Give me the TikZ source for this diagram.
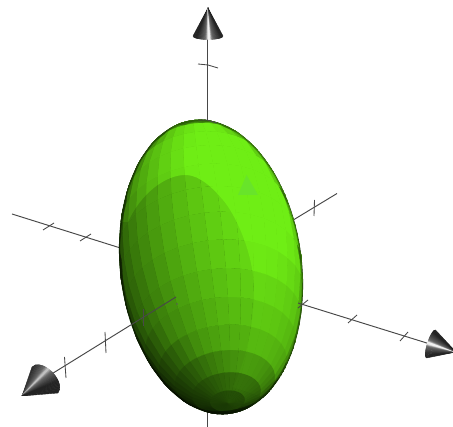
\documentclass[tikz,border=0pt]{standalone}
\tikzset{
  axisline/.style={draw={rgb,255:red,72;green,72;blue,72},line width=0.95pt},
  tickmark/.style={draw={rgb,255:red,72;green,72;blue,72},line width=0.85pt},
  declare function={
    sx(\p,\l)=cos(\p)*cos(\l);
    sy(\p,\l)=0.93*sin(\p)+0.37*cos(\p)*sin(\l);
    sz(\p,\l)=-0.37*sin(\p)+0.93*cos(\p)*sin(\l);
    fx(\p,\l)=211+90.3*sx(\p,\l)-18.0*sy(\p,\l);
    fy(\p,\l)=267-146.9*sy(\p,\l)-11.1*sx(\p,\l);
  }
}
\newcommand{\conepeak}{170}
% cone: tip, base centre, half-width vector, bulge vector, highlight position
\newcommand{\conefan}[9]{%
  \foreach \i in {-16,...,15}{%
    \pgfmathsetmacro{\sa}{\i/16}%
    \pgfmathsetmacro{\sb}{(\i+1)/16}%
    \pgfmathsetmacro{\ba}{sqrt(max(0,1-\sa*\sa))}%
    \pgfmathsetmacro{\bb}{sqrt(max(0,1-\sb*\sb))}%
    \pgfmathsetmacro{\dd}{abs((\sa+\sb)/2-#9)}%
    \pgfmathtruncatemacro{\gv}{min(240,35+\conepeak*exp(-\dd*\dd/0.02)+90*max(0,1-\dd*1.2))}%
    \fill[fill={rgb,255:red,\gv;green,\gv;blue,\gv},draw={rgb,255:red,\gv;green,\gv;blue,\gv},line width=0.4pt]
      (#1,#2) -- ({#3+#5*\sa+#7*\ba},{#4+#6*\sa+#8*\ba}) -- ({#3+#5*\sb+#7*\bb},{#4+#6*\sb+#8*\bb}) -- cycle;
  }%
}
% one layer of flat quads; #1 = 0 plain, 1 brightened
\newcommand{\meshlayer}[1]{%
\foreach \pi in {-8,...,7}{
  \foreach \li in {-3,...,32}{
    \pgfmathsetmacro{\pa}{\pi*11.25}
    \pgfmathsetmacro{\pb}{\pa+11.25}
    \pgfmathsetmacro{\la}{\li*10}
    \pgfmathsetmacro{\lb}{\la+10}
    \pgfmathsetmacro{\pc}{\pa+5.6}
    \pgfmathsetmacro{\lc}{\la+5}
    \pgfmathsetmacro{\nx}{sx(\pc,\lc)}
    \pgfmathsetmacro{\ny}{sy(\pc,\lc)}
    \pgfmathsetmacro{\nz}{sz(\pc,\lc)}
    \ifdim\nz pt>-0.12pt
      \pgfmathsetmacro{\tv}{max(-0.7,0.62*\nx+0.42*\ny+0.66*\nz)}
      \pgfmathsetmacro{\gb}{62+(\tv+0.7)*96}
      \pgfmathsetmacro{\boost}{#1*max(0.04,0.08+0.17*\ny)+1}
      \pgfmathsetmacro{\wv}{-\ny-0.25*\nx}
      \pgfmathsetmacro{\lim}{min(1,0.6+max(\nz,0)*1.5)*(\wv>0.55 ? 1-(\wv-0.55)*1.1 : 1)}
      \pgfmathtruncatemacro{\gg}{min(238,\gb*\boost)*\lim}
      \pgfmathtruncatemacro{\rr}{\gg*0.47}
      \pgfmathtruncatemacro{\bbb}{\gg*0.09}
      \fill[fill={rgb,255:red,\rr;green,\gg;blue,\bbb},draw={rgb,255:red,\rr;green,\gg;blue,\bbb},line width=0.2pt]
        ({fx(\pa,\la)},{fy(\pa,\la)}) -- ({fx(\pb,\la)},{fy(\pb,\la)}) -- ({fx(\pb,\lb)},{fy(\pb,\lb)}) -- ({fx(\pa,\lb)},{fy(\pa,\lb)}) -- cycle;
    \fi
  }
}}
\begin{document}
\begin{tikzpicture}[x=1pt,y=-1pt]
\useasboundingbox (0,0) rectangle (453,427);
\clip (0,0) rectangle (453,427);
\fill[white] (0,0) rectangle (453,427);
% axes behind the ellipsoid
\coordinate (topEnd) at (207.5,36);
\coordinate (botEnd) at (207.5,427);
\coordinate (leftEnd) at (12,214);
\coordinate (leftIn) at (130,251);
\coordinate (urEnd) at (337,193.5);
\coordinate (urIn) at (280,228);
\draw[axisline] (topEnd) -- (botEnd);
\draw[axisline] (leftEnd) -- (leftIn);
\draw[axisline] (urIn) -- (urEnd);
\draw[tickmark] (198,64) -- (208,65) -- (218,68);
\draw[tickmark] (43,230) -- (54,223);
\draw[tickmark] (80,241) -- (91,234);
\draw[tickmark] (314.5,200) -- (314,216);
% ellipsoid
\begin{scope}
\clip plot[domain=0:360,samples=120] ({211+90.3*cos(\x)-18.0*sin(\x)},{267-146.9*sin(\x)-11.1*cos(\x)}) -- cycle;
\fill[fill={rgb,255:red,25;green,70;blue,3}] (100,100) rectangle (320,430);
\meshlayer{0}
\begin{scope}
\clip (233,387) .. controls (246,360) and (254,325) .. (254,290)
  .. controls (254,255) and (236,215) .. (223,200)
  .. controls (212,187) and (200,176) .. (187,175)
  .. controls (165,174) and (140,195) .. (128,222)
  -- (100,222) -- (100,100) -- (330,100) -- (330,420) -- cycle;
\meshlayer{1}
\end{scope}
\fill[fill={rgb,255:red,104;green,228;blue,42}] (246.5,175) -- (238,195) -- (258,195) -- cycle;
\draw[black,opacity=0.22,line width=3pt] plot[domain=0:360,samples=120] ({211+90.3*cos(\x)-18.0*sin(\x)},{267-146.9*sin(\x)-11.1*cos(\x)}) -- cycle;
\end{scope}
% axes in front of the ellipsoid
\coordinate (dlIn) at (176,297);
\coordinate (dlEnd) at (50,375);
\coordinate (rIn) at (298,303);
\coordinate (rEnd) at (430,344);
\draw[axisline] (dlIn) -- (dlEnd);
\draw[axisline] (rIn) -- (rEnd);
\fill[black!65] (177,304) circle (0.9);
\draw[tickmark] (143,309) -- (143,326);
\draw[tickmark] (105,332) -- (106,353);
\draw[tickmark] (64.5,357) -- (66,378);
\draw[tickmark] (298,308) -- (308,300);
\draw[tickmark] (348,323) -- (357,315);
\draw[tickmark] (400,341) -- (408,332);
\draw[tickmark] (198,120) -- (207,120) -- (217,123);
% cones
\conefan{208}{8}{208}{36}{15}{0}{0}{3.5}{0.08}
\begin{scope}
\renewcommand{\conepeak}{75}
\clip (0,0) rectangle (453,395.5);
\conefan{22}{396}{45}{380}{13}{13}{7}{-8}{-0.25}
\end{scope}
\conefan{456}{352}{431}{344}{4.5}{-14}{-3.5}{-1}{0.02}
\end{tikzpicture}
\end{document}
